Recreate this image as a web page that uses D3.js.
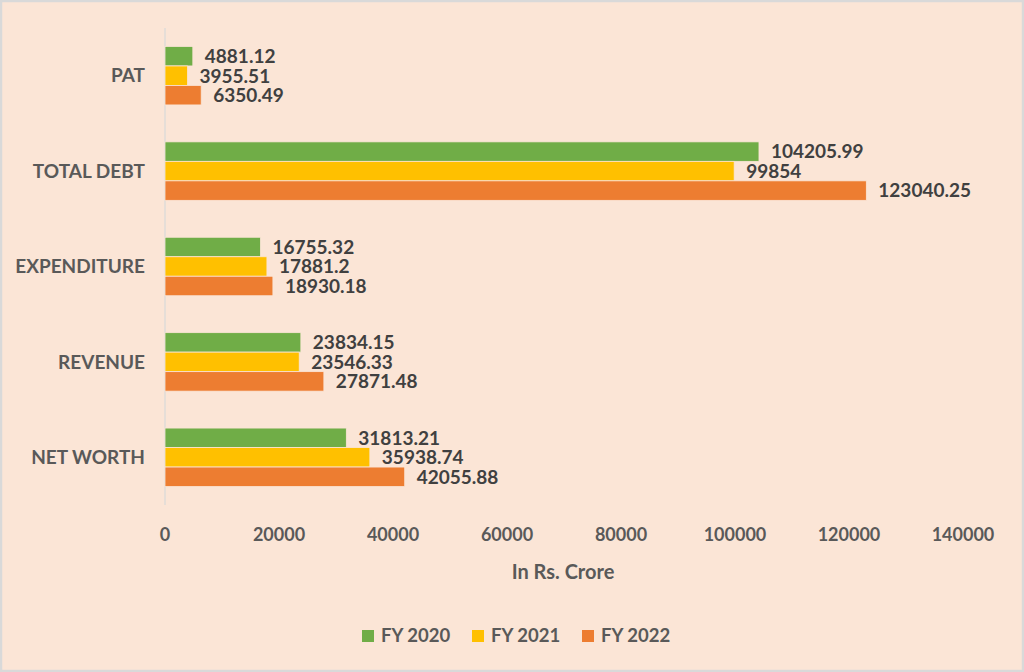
<!DOCTYPE html>
<html>
<head>
<meta charset="utf-8">
<script src="https://cdn.jsdelivr.net/npm/d3@7"></script>
<style>
  html, body { margin: 0; padding: 0; background: #fbe5d6; }
  svg { display: block; font-family: Lato, "Open Sans", sans-serif; font-weight: bold; }
</style>
</head>
<body>
<svg id="chart"></svg>
<script>
var categories = ['PAT', 'TOTAL DEBT', 'EXPENDITURE', 'REVENUE', 'NET WORTH'];
var seriesNames = ['FY 2020', 'FY 2021', 'FY 2022'];
var fy2020 = [4881.12, 104205.99, 16755.32, 23834.15, 31813.21];
var fy2021 = [3955.51, 99854, 17881.2, 23546.33, 35938.74];
var fy2022 = [6350.49, 123040.25, 18930.18, 27871.48, 42055.88];
var tickValues = [0, 20000, 40000, 60000, 80000, 100000, 120000, 140000];
var colors = ['#70ad47', '#ffc000', '#ed7d31'];

var width = 1024;
var height = 672;
var seriesValues = [fy2020, fy2021, fy2022];

var svg = d3.select('#chart')
    .attr('width', width)
    .attr('height', height);

// background + border
svg.append('rect')
    .attr('x', 1).attr('y', 1)
    .attr('width', width - 2).attr('height', height - 2)
    .attr('fill', '#fbe5d6')
    .attr('stroke', '#d9d9d9')
    .attr('stroke-width', 2.5);

var x = d3.scaleLinear()
    .domain([0, 140000])
    .range([165, 963]);

var gap = 0.387;
var y = d3.scaleBand()
    .domain(categories)
    .range([28, 505])
    .paddingInner(gap)
    .paddingOuter(gap / 2);

var ySub = d3.scaleBand()
    .domain(seriesNames)
    .range([0, y.bandwidth()]);

// vertical axis line
svg.append('line')
    .attr('x1', x(0)).attr('x2', x(0))
    .attr('y1', 28).attr('y2', 505)
    .attr('stroke', '#d9d9d9')
    .attr('stroke-width', 1.2);

// category labels
svg.append('g')
    .selectAll('text')
    .data(categories)
    .enter()
    .append('text')
    .attr('x', 145)
    .attr('y', function(d) { return y(d) + y.bandwidth() / 2; })
    .attr('dy', '0.35em')
    .attr('text-anchor', 'end')
    .attr('fill', '#595959')
    .attr('font-size', 19)
    .text(function(d) { return d; });

// bars + labels
seriesNames.forEach(function(name, si) {
    var rows = categories.map(function(c, ci) {
        return {cat: c, value: seriesValues[si][ci]};
    });
    var g = svg.append('g').attr('class', 'series');

    g.selectAll('rect')
        .data(rows)
        .enter()
        .append('rect')
        .attr('x', x(0))
        .attr('y', function(d) { return y(d.cat) + ySub(name); })
        .attr('width', function(d) { return x(d.value) - x(0); })
        .attr('height', ySub.bandwidth())
        .attr('fill', colors[si])
        .attr('stroke', '#fbe5d6')
        .attr('stroke-width', 0.8);

    g.selectAll('text')
        .data(rows)
        .enter()
        .append('text')
        .attr('x', function(d) { return x(d.value) + 12; })
        .attr('y', function(d) { return y(d.cat) + ySub(name) + ySub.bandwidth() / 2; })
        .attr('dy', '0.36em')
        .attr('fill', '#404040')
        .attr('font-size', 19)
        .text(function(d) { return d.value; });
});

// x tick labels
svg.append('g')
    .selectAll('text')
    .data(tickValues)
    .enter()
    .append('text')
    .attr('x', function(d) { return x(d); })
    .attr('y', 541)
    .attr('text-anchor', 'middle')
    .attr('fill', '#595959')
    .attr('font-size', 18)
    .text(function(d) { return d; });

// axis title
svg.append('text')
    .attr('x', 563)
    .attr('y', 579)
    .attr('text-anchor', 'middle')
    .attr('fill', '#595959')
    .attr('font-size', 20)
    .text('In Rs. Crore');

// legend
var legendX = [362, 472, 582];
var legend = svg.append('g')
    .selectAll('g')
    .data(seriesNames)
    .enter()
    .append('g')
    .attr('transform', function(d, i) { return 'translate(' + legendX[i] + ',630)'; });

legend.append('rect')
    .attr('width', 12)
    .attr('height', 12)
    .attr('fill', function(d, i) { return colors[i]; });

legend.append('text')
    .attr('x', 19)
    .attr('y', 12)
    .attr('fill', '#595959')
    .attr('font-size', 18.5)
    .text(function(d) { return d; });
</script>
</body>
</html>
